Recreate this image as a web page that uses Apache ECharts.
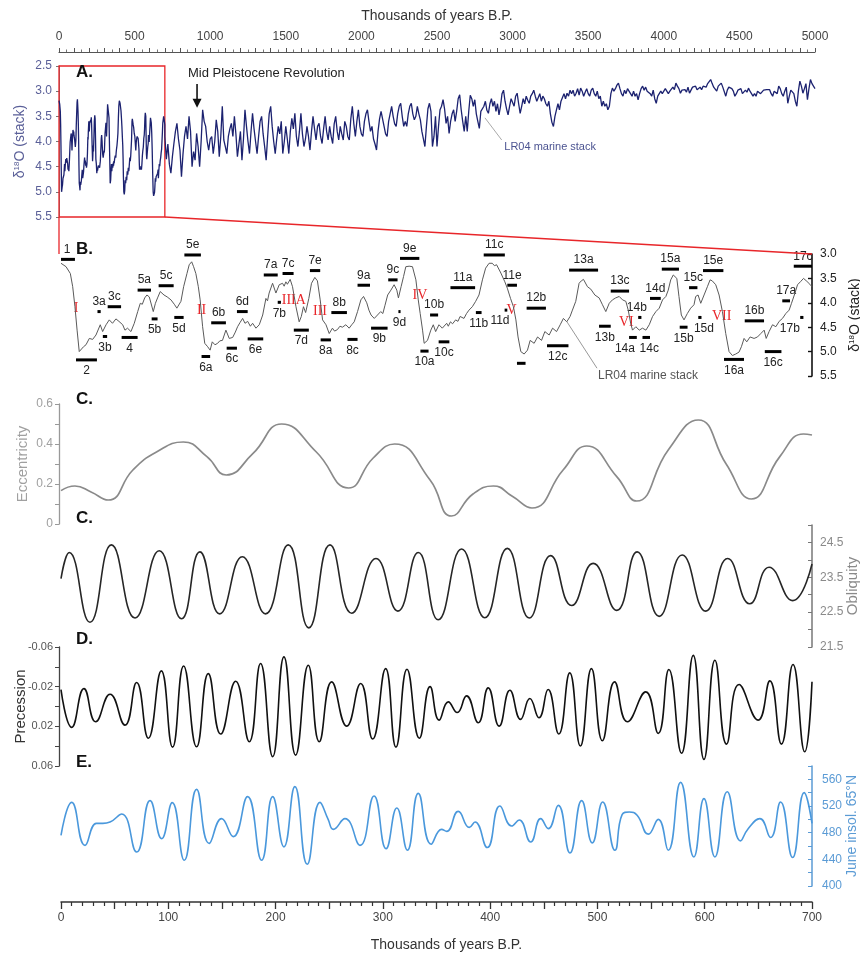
<!DOCTYPE html>
<html><head><meta charset="utf-8">
<script src="https://cdn.jsdelivr.net/npm/echarts@6/dist/echarts.min.js"></script>
<style>html,body{margin:0;padding:0;background:#fff}#c{width:860px;height:957px}</style>
</head><body><div id="c"></div>
<script>
// ---------------- DATA ----------------
// LR04 stack, 0-700 kyr (panel B, also first part of panel A): [kyr, d18O]
const lr04Recent = [[0,3.19],[4.7,3.26],[8.7,3.4],[10.9,3.67],[13,4.08],[15,4.56],[17,5.0],[18.6,4.97],[21,4.9],[23.3,4.86],[26.4,4.73],[29.5,4.75],[32.6,4.66],[36.6,4.45],[38.8,4.59],[42,4.45],[45,4.35],[48,4.42],[51.2,4.33],[54,4.38],[57.5,4.45],[59.6,4.56],[62,4.52],[65.2,4.59],[68.3,4.42],[71.5,4.18],[73.9,4.01],[75.8,4.03],[78,3.9],[80.1,3.84],[82.3,3.88],[86,4.18],[88,4.01],[90,3.9],[92.5,3.77],[94,3.8],[96,3.84],[97.5,3.8],[99,3.88],[102.5,3.94],[105.6,4.03],[108,4.11],[111.8,3.97],[114.3,3.67],[117.4,3.4],[119.5,3.22],[121.8,3.16],[123.6,3.26],[125.7,3.4],[128,3.67],[129.7,3.94],[132,4.49],[134,4.83],[136.7,4.9],[139,4.97],[141,4.8],[143.5,4.86],[146,4.83],[148,4.78],[150.5,4.77],[153.7,4.56],[156.8,4.73],[160,4.71],[162.5,4.6],[164.6,4.49],[167,4.4],[169.3,4.32],[171.5,4.42],[174,4.38],[176.5,4.48],[178.6,4.42],[181.7,4.52],[184.8,4.45],[188,4.25],[191,3.91],[192.5,3.96],[194,3.8],[197.2,3.6],[200.3,3.8],[203.4,3.63],[206.5,3.6],[208,3.66],[209.6,3.57],[211,3.62],[213.6,3.52],[215.8,3.67],[219,4.08],[222,4.39],[224,4.28],[226,4.08],[228,4.2],[231,3.91],[233.5,3.6],[236.6,3.48],[239,3.55],[241.6,3.94],[243.8,4.35],[247,4.45],[250,4.63],[253,4.52],[255,4.58],[257.6,4.55],[260,4.48],[262.3,4.5],[265.5,4.45],[268.6,4.52],[271,4.45],[273.3,4.39],[276.4,4.18],[279.5,3.94],[282,3.87],[285,4.0],[287,4.15],[289,4.25],[292,4.32],[295,4.25],[298,4.18],[300,4.22],[302,4.05],[304.5,3.84],[307.5,3.74],[310.5,3.63],[313,3.74],[314.5,3.9],[317,3.67],[319.3,3.46],[321.4,3.26],[324.5,3.25],[327.6,3.26],[330.8,3.53],[333,3.94],[334.8,4.22],[337,4.56],[338.5,4.83],[341.6,4.77],[344.7,4.56],[347,4.45],[349.2,4.59],[352.3,4.45],[355.4,4.52],[359.5,4.42],[361,4.48],[363,4.39],[365,4.43],[367.8,4.35],[370,4.38],[372,4.28],[375.6,4.32],[378,4.22],[380.3,4.15],[383.4,4.08],[386.5,3.97],[389.6,3.84],[392.8,3.53],[395.8,3.29],[399,3.19],[402,3.19],[404,3.24],[406,3.22],[410,3.39],[413.7,3.57],[416,3.7],[419,3.91],[421.7,4.08],[424,4.35],[426,4.7],[428.6,5.0],[431.7,5.05],[434.8,4.97],[437.3,4.77],[441,4.83],[444.2,4.7],[447.9,4.77],[451,4.59],[455,4.66],[458.2,4.52],[461.9,4.59],[465.3,4.45],[468.3,4.32],[471.4,4.39],[474.5,4.28],[476.7,4.15],[479.8,3.97],[482.9,3.6],[485,3.55],[487,3.52],[490.7,3.67],[493.8,3.72],[497.6,3.84],[501.6,3.9],[504.7,4.04],[507.8,4.18],[511,4.01],[514,3.94],[517,3.9],[520.3,3.87],[523.4,3.94],[526.5,3.97],[528.7,4.15],[531,4.42],[532.7,4.56],[535.8,4.49],[539,4.56],[542,4.52],[545.2,4.56],[548.3,4.45],[551.4,4.28],[554.5,4.18],[557.6,4.11],[560.7,3.94],[563.8,3.87],[566,3.74],[568.3,3.53],[570.7,3.43],[574,3.5],[576,3.87],[578.2,4.25],[580.7,4.35],[583.8,4.22],[586.9,4.11],[590,4.04],[591.6,3.87],[593.8,3.84],[596.3,4.01],[599.4,3.84],[602.5,3.67],[605,3.53],[607,3.55],[610.3,3.63],[613.4,3.84],[616.5,4.18],[619.6,4.63],[622.7,5.0],[625.8,5.08],[628.9,5.05],[632,5.01],[634.2,4.9],[636.7,4.73],[639.2,4.8],[642.3,4.7],[646,4.73],[649.2,4.7],[652.3,4.63],[655.4,4.56],[657.3,4.73],[660,4.59],[663.2,4.45],[666.3,4.49],[669.4,4.38],[672.5,4.32],[675.6,4.22],[678.7,4.15],[680.9,4.01],[684,3.81],[686.5,3.63],[689.6,3.56],[692.1,3.5],[695.2,3.56],[698,3.62],[700,3.67]];

// LR04 stack, 700-5000 kyr, one value every 10 kyr (panel A)
const lr04OldStartKyr = 700;
const lr04OldStepKyr = 10;
const lr04Old = [
3.90,4.35,4.05,4.45,4.63,4.30,4.04,3.80,3.64,3.95,
4.17,4.70,4.25,3.90,3.70,3.95,3.50,3.80,4.50,4.20,
4.37,3.84,4.10,4.50,4.00,3.37,3.60,3.70,4.00,4.17,
3.95,3.90,4.24,4.00,3.57,3.80,4.30,3.90,3.30,3.97,
4.10,4.24,3.90,3.75,3.64,3.90,3.50,3.85,4.30,4.05,
3.80,4.37,3.95,3.37,3.70,4.00,4.24,3.80,3.44,3.75,
4.00,4.24,3.90,3.60,3.50,3.85,4.10,4.37,3.90,3.45,
3.30,3.70,4.00,4.24,3.95,3.70,3.85,3.60,4.24,4.00,
3.70,3.95,4.24,3.80,3.54,3.75,3.44,3.90,4.10,3.80,
3.44,3.85,4.10,3.95,3.70,3.90,4.17,3.80,3.50,3.75,
3.97,3.70,3.64,3.90,4.04,3.75,3.50,3.80,3.97,3.70,
3.90,4.04,3.65,3.50,3.80,3.97,3.70,3.85,3.97,3.60,
3.70,3.90,3.97,3.55,3.30,3.65,3.90,3.60,3.37,3.70,
3.85,3.90,3.60,3.45,3.37,3.60,3.80,3.70,3.95,4.05,
4.17,3.80,3.55,3.40,3.37,3.70,3.85,3.90,3.60,3.45,
3.30,3.50,3.65,3.70,3.45,3.30,3.24,3.50,3.70,3.60,
3.70,3.45,3.30,3.24,3.45,3.57,3.50,3.30,3.45,3.57,
3.80,3.95,4.10,3.70,3.35,3.24,3.40,4.10,3.90,3.50,
4.10,3.70,3.37,3.30,3.17,3.35,3.64,3.50,3.84,3.60,
3.45,3.37,3.60,3.40,3.15,3.07,3.37,3.60,3.80,3.50,
3.80,3.40,3.08,3.15,3.30,3.17,3.45,3.60,3.74,3.40,
3.40,3.30,3.20,3.38,3.44,3.25,3.15,3.30,3.20,3.40,
3.25,3.47,3.30,3.05,2.98,3.20,3.35,3.47,3.30,3.15,
3.17,3.30,3.10,3.04,3.25,3.44,3.30,3.15,3.25,3.10,
3.18,3.24,3.10,3.05,2.98,3.10,3.20,3.17,3.05,3.20,
3.10,3.15,3.25,3.30,3.20,3.45,3.62,3.70,3.50,3.37,
3.25,3.37,3.20,3.17,3.05,3.15,3.04,3.10,2.98,3.05,
2.98,3.10,3.04,2.95,3.08,2.94,3.00,3.10,3.02,2.95,
3.05,3.10,2.98,2.94,3.05,3.10,3.00,3.15,3.10,3.30,
3.20,3.30,3.25,3.37,3.30,3.05,2.94,3.00,2.95,2.88,
2.84,2.95,3.05,3.10,2.98,3.05,2.95,2.98,3.05,3.10,
3.00,3.10,3.05,3.17,3.05,2.95,2.90,2.98,2.92,3.00,
2.98,3.05,3.10,2.98,3.15,3.24,3.10,3.07,3.00,3.05,
3.07,2.95,3.00,3.05,3.00,2.97,2.92,2.97,2.84,2.90,
2.95,3.04,2.98,2.95,2.97,3.02,2.92,3.04,2.98,2.92,
2.94,2.90,2.97,3.00,2.92,2.97,2.90,2.87,2.92,2.85,
2.87,2.77,2.85,2.92,2.95,3.00,2.90,2.88,2.84,2.92,
2.95,3.10,2.98,2.92,2.90,2.95,3.00,3.10,3.05,2.98,
3.00,2.95,3.05,3.07,2.98,3.02,2.94,3.00,2.98,3.10,
3.05,3.10,3.00,2.97,3.05,3.07,2.98,3.00,2.97,2.95,
2.97,3.05,3.10,3.00,2.98,3.05,2.90,2.95,3.05,3.10,
3.00,2.92,3.24,3.10,2.98,2.97,3.05,3.20,3.30,3.00,
2.80,2.90,3.04,2.95,2.85,3.17,2.95,2.77,2.85,2.87,
2.95];

// Marine isotope (sub)stage bars in panel B: [label, start kyr, end kyr, d18O level]
const markerBars = [['1',0,13,3.11],['2',14,33.5,5.17],['3a',34,37,4.18],['3b',39,43,4.69],['3c',43.5,56,4.08],['4',56.5,71.4,4.71],['5a',71.4,83.9,3.74],['5b',84.5,90,4.33],['5c',91,105,3.65],['5d',105.6,114.3,4.3],['5e',115,130.4,3.02],['6a',131,139,5.1],['6b',140,153.7,4.41],['6c',154.4,164,4.93],['6d',164,174,4.18],['6e',174,188.5,4.74],['7a',189,202,3.43],['7b',202,205,3.99],['7c',206.5,216.8,3.4],['7d',217,231,4.56],['7e',232,241.6,3.34],['8a',242,251.6,4.76],['8b',252,266.5,4.2],['8c',267,276.4,4.75],['9a',276.4,288,3.64],['9b',289,304.4,4.52],['9c',305,313.7,3.53],['9d',314.5,316.5,4.18],['9e',316,334,3.09],['10a',335,342.6,4.99],['10b',344,351.5,4.25],['10c',352,362,4.8],['11a',363,386,3.69],['11b',386.7,392,4.2],['11c',394,413.7,3.02],['11d',413.5,416,4.15],['11e',416,425,3.64],['',425,433,5.24],['12b',434,452,4.11],['12c',453,473,4.88],['13a',473.6,500.6,3.33],['13b',501.5,512.4,4.48],['13c',512.4,529.5,3.76],['14a',529.5,536.7,4.71],['14b',538,541,4.3],['14c',542,549,4.71],['14d',549,559,3.91],['15a',560,576,3.31],['15b',576.7,584,4.5],['15c',585.4,593.2,3.69],['15d',594,597,4.3],['15e',598.4,617.4,3.34],['16a',618,636.6,5.16],['16b',637.3,655.3,4.37],['16c',656,671.5,5.0],['17a',672.3,679.5,3.96],['17b',689,692,4.3],['17c',683,700,3.25]];
// Glacial terminations (red numerals): [numeral, kyr, d18O]
const terminations = [['I',14,4.11],['II',131,4.15],['IIIA',217,3.94],['III',241.4,4.18],['IV',334.6,3.84],['V',420,4.15],['VI',527,4.39],['VII',615.8,4.28]];

// Orbital parameters, 0-700 kyr: [kyr, value]
const eccentricity = [[0,0.167],[13,0.19],[28,0.16],[44,0.12],[67,0.27],[89,0.36],[114,0.41],[136,0.337],[154,0.245],[179,0.353],[205.6,0.5],[238,0.36],[268,0.18],[291,0.33],[311,0.40],[344,0.22],[364,0.04],[384,0.15],[403,0.19],[421,0.137],[439,0.08],[468,0.27],[490,0.39],[518,0.237],[536.5,0.115],[566,0.37],[594,0.52],[620,0.30],[643.5,0.125],[670,0.337],[692,0.45],[700,0.445]];
const obliquity = [[0,23.46],[7.7,24.21],[27,22.21],[47,24.43],[69,22.33],[91.6,24.26],[112.4,22.31],[129.5,24.23],[148,22.45],[169,24.09],[190.6,22.45],[211.8,24.43],[231,22.05],[250.7,24.43],[271,22.47],[293.6,24.04],[314,22.53],[333,24.21],[351.6,22.28],[373.4,24.31],[395,22.34],[416,24.33],[436.5,22.33],[456.4,24.12],[476,22.69],[496,23.9],[518,22.55],[537,24.23],[557.5,22.38],[579,24.14],[601,22.53],[621.4,24.04],[642,22.74],[660,23.79],[682,22.83],[700,23.88]];
const precession = [[0,-0.017],[10,0.021],[21.4,-0.018],[32.3,0.0154],[45.7,-0.0124],[59.6,0.0188],[70.5,-0.0242],[81.4,0.032],[93.5,-0.0359],[104,0.041],[114.3,-0.0409],[126.4,0.0406],[137.3,-0.0332],[148.8,0.0278],[162.8,-0.0255],[175.5,0.0355],[186,-0.0433],[197.3,0.0506],[207.8,-0.05],[218.7,0.049],[230.5,-0.0416],[240.7,0.0355],[252.3,-0.0248],[266.3,0.0198],[279.3,-0.0232],[290.5,0.0328],[302.6,-0.0382],[312.2,0.041],[322.5,-0.0376],[334,0.032],[344,-0.02],[352.5,0.0137],[361,-0.0047],[369.3,0.006],[378,-0.0107],[388.9,0.0164],[398.2,-0.0188],[408.4,0.0198],[418.4,-0.0164],[428.4,0.013],[437,-0.008],[445.5,0.0114],[454,-0.0171],[464,0.0278],[474.2,-0.0339],[484.1,0.0399],[494.4,-0.0382],[504.6,0.0345],[516,-0.0248],[527.9,0.0154],[545,-0.0147],[556.7,0.0271],[566.6,-0.0373],[578.4,0.0472],[589.3,-0.0516],[599.3,0.0533],[609.5,-0.0466],[620.3,0.0379],[632,-0.0222],[649.8,0.0137],[660.7,-0.0258],[671.5,0.0379],[682.3,-0.0423],[693.2,0.0457],[700,-0.025]];
const insolation = [[0,476],[10,525.4],[22.4,461],[33,494],[39,494],[45.7,496],[56.6,508],[70.5,451],[83,528],[93.8,471],[103.7,525],[114.9,438.6],[126.4,545],[138.1,464],[149.7,501],[160.5,474],[173.9,534],[187,438.6],[197.3,534],[207.8,458.7],[218,549],[229.5,432.6],[241.4,525.4],[249,500],[253.8,485],[264.7,501],[278.7,461],[291.8,535],[303,456],[313,517],[322.9,453.7],[333,539],[345,462.7],[354.8,485],[359.5,482],[370.3,512],[380.6,488],[385.9,496],[397.3,457.7],[409.1,520],[420,490],[427.1,499],[437.8,466],[447.1,501],[454.2,486],[463.5,521],[474.4,449.6],[485.3,528],[495.2,464.7],[504.9,526],[516.3,453.7],[523,507],[529.7,511],[537,506],[547.4,477.8],[556.7,500],[566,453.7],[577.5,555.5],[589.9,443.6],[599.3,531],[609.5,443.6],[621,541.4],[633.4,467.7],[640.5,486],[651.4,501],[661.4,472.8],[670.7,526],[681.9,442.7],[692.7,540],[700,494]];

// ---------------- CHART ----------------
const labelsBelow = ['2','3b','4','5b','5d','6a','6c','6e','7b','7d','8a','8c','9b','9d','10a','10c','11b','11d','12c','13b','14a','14c','15b','15d','16a','16c','17b'];
const labelShift = {'1':-1,'14a':-8,'14c':3,'11d':-6,'17b':-12,'14b':-3,'15d':4};
const FONT = 'Liberation Sans, Arial, sans-serif';
const W = 751;
const chart = echarts.init(document.getElementById('c'), null, {renderer:'canvas'});

const lr04All = lr04Recent.concat(lr04Old.map((v,i)=>[lr04OldStartKyr + i*lr04OldStepKyr, v]));

function d18Name(color, size){
  return { name:'{n|δ}{s|18}{n|O (stack)}', nameTextStyle:{ rich:{ n:{fontSize:size,color:color,fontFamily:FONT}, s:{fontSize:8,color:color,fontFamily:FONT,padding:[0,0,7,0]} } } };
}
function hiddenX(g){ return {gridIndex:g,type:'value',min:0,max:700,show:false,axisLine:{onZero:false}}; }
function gridBox(l,t,w,h){ return {left:l,top:t,width:w,height:h,containLabel:false,outerBoundsMode:'none'}; }

const option = {
  animation:false,
  backgroundColor:'#fff',
  textStyle:{fontFamily:FONT},
  grid:[
    gridBox(59,66,756,151),
    gridBox(61,254,W,122),
    gridBox(61,404,W,120),
    gridBox(61,525,W,122),
    gridBox(61,647,W,119),
    gridBox(61,766,W,120)
  ],
  xAxis:[
    {gridIndex:0,type:'value',position:'top',offset:14,min:0,max:5000,interval:100,
     axisLine:{onZero:false,lineStyle:{color:'#555',width:1.2}},
     axisTick:{length:4,lineStyle:{color:'#555'}},
     minorTick:{show:true,splitNumber:2,length:2.5,lineStyle:{color:'#777'}},
     splitLine:{show:false},
     axisLabel:{margin:9,fontSize:12,color:'#444',formatter:v=>v%500===0?String(v):''},
     name:'Thousands of years B.P.',nameLocation:'middle',nameGap:29,nameMoveOverlap:false,
     nameTextStyle:{fontSize:14,color:'#333'}},
    hiddenX(1),hiddenX(2),hiddenX(3),hiddenX(4),
    {gridIndex:5,type:'value',position:'bottom',offset:16,min:0,max:700,interval:50,
     axisLine:{onZero:false,lineStyle:{color:'#333',width:1.5}},
     axisTick:{length:7,lineStyle:{color:'#333',width:1.3}},
     minorTick:{show:true,splitNumber:5,length:4,lineStyle:{color:'#333',width:1.2}},
     splitLine:{show:false},
     axisLabel:{margin:10,fontSize:12,color:'#444',formatter:v=>v%100===0?String(v):''},
     name:'Thousands of years B.P.',nameLocation:'middle',nameGap:36,nameMoveOverlap:false,
     nameTextStyle:{fontSize:14,color:'#333',padding:[0,0,0,20]}}
  ],
  yAxis:[
    Object.assign({gridIndex:0,type:'value',inverse:true,min:2.5,max:5.5,interval:0.5,
     axisLine:{show:true,onZero:false,lineStyle:{color:'#777'}},axisTick:{show:true,length:3,lineStyle:{color:'#777'}},
     splitLine:{show:false},
     axisLabel:{margin:7,fontSize:12,color:'#5a5f98',formatter:v=>v.toFixed(1)},
     nameLocation:'middle',nameGap:31,nameRotate:90,nameMoveOverlap:false}, d18Name('#5a5f98',14)),
    Object.assign({gridIndex:1,type:'value',position:'right',inverse:true,min:3.0,max:5.5,interval:0.5,
     axisLine:{show:true,onZero:false,lineStyle:{color:'#111',width:1.6}},axisTick:{show:true,inside:true,length:4,lineStyle:{color:'#111',width:1.4}},
     splitLine:{show:false},
     axisLabel:{margin:8,fontSize:12,color:'#222',formatter:v=>v.toFixed(1)},
     nameLocation:'middle',nameGap:36,nameRotate:90,nameMoveOverlap:false}, d18Name('#222',14)),
    {gridIndex:2,type:'value',offset:2,min:0,max:0.6,interval:0.1,
     axisLine:{show:true,onZero:false,lineStyle:{color:'#999',width:1.3}},axisTick:{show:true,length:4,lineStyle:{color:'#999'}},
     splitLine:{show:false},
     axisLabel:{margin:6,fontSize:12,color:'#a0a0a0',formatter:v=>{const k=Math.round(v*10);return k%2===0?(k===0?'0':(k/10).toFixed(1)):'';}},
     name:'Eccentricity',nameLocation:'middle',nameGap:29,nameRotate:90,nameMoveOverlap:false,nameTextStyle:{fontSize:15,color:'#a0a0a0'}},
    {gridIndex:3,type:'value',position:'right',min:21.5,max:25,interval:0.5,
     axisLine:{show:true,onZero:false,lineStyle:{color:'#777',width:1.5}},axisTick:{show:true,inside:true,length:4,lineStyle:{color:'#777'}},
     splitLine:{show:false},
     axisLabel:{margin:8,fontSize:12,color:'#8a8a8a',formatter:v=>Math.round(v*2)%2===1?v.toFixed(1):''},
     name:'Obliquity',nameLocation:'middle',nameGap:33,nameRotate:90,nameMoveOverlap:false,nameTextStyle:{fontSize:15,color:'#8a8a8a'}},
    {gridIndex:4,type:'value',offset:2,inverse:true,min:-0.06,max:0.06,interval:0.02,
     axisLine:{show:true,onZero:false,lineStyle:{color:'#444',width:1.3}},axisTick:{show:true,length:4,lineStyle:{color:'#444'}},
     splitLine:{show:false},
     axisLabel:{margin:6,fontSize:11,color:'#555',formatter:v=>{const a=Math.abs(v);return (Math.abs(a-0.06)<1e-9||Math.abs(a-0.02)<1e-9)?v.toFixed(2):'';}},
     name:'Precession',nameLocation:'middle',nameGap:31,nameRotate:90,nameMoveOverlap:false,nameTextStyle:{fontSize:15,color:'#333'}},
    {gridIndex:5,type:'value',position:'right',min:400,max:580,interval:20,
     axisLine:{show:true,onZero:false,lineStyle:{color:'#5b9bd5',width:1.5}},axisTick:{show:true,inside:true,length:4,lineStyle:{color:'#5b9bd5'}},
     splitLine:{show:false},
     axisLabel:{margin:10,fontSize:12,color:'#5b9bd5',formatter:v=>(v%40===0&&v<=560)?String(v):''},
     name:'June insol. 65°N',nameLocation:'middle',nameGap:33,nameRotate:90,nameMoveOverlap:false,nameTextStyle:{fontSize:14,color:'#5b9bd5'}}
  ],
  series:[
    {type:'line',xAxisIndex:0,yAxisIndex:0,data:lr04All,showSymbol:false,
     lineStyle:{color:'#1c2270',width:1.3},
     markArea:{silent:true,itemStyle:{color:'rgba(0,0,0,0)',borderColor:'#e8262a',borderWidth:1.3},
       data:[[{coord:[0,2.5]},{coord:[700,5.5]}]]}},
    {type:'line',xAxisIndex:1,yAxisIndex:1,data:lr04Recent,showSymbol:false,
     lineStyle:{color:'#5a5a5a',width:1}},
    {type:'custom',xAxisIndex:1,yAxisIndex:1,clip:false,
     data:markerBars.map(b=>[b[1],b[2],b[3]]),
     encode:{x:[0,1],y:2},
     renderItem:function(params,api){
       const p1=api.coord([api.value(0),api.value(2)]), p2=api.coord([api.value(1),api.value(2)]);
       const name=markerBars[params.dataIndex][0];
       const below=labelsBelow.indexOf(name)>=0;
       const dx=labelShift[name]||0;
       return {type:'group',children:[
         {type:'line',shape:{x1:p1[0],y1:p1[1],x2:p2[0],y2:p2[1]},style:{stroke:'#000',lineWidth:3}},
         {type:'text',style:{text:name,x:(p1[0]+p2[0])/2+dx,y:p1[1]+(below?11:-10),align:'center',verticalAlign:'middle',fill:'#222',font:'12px '+FONT}}
       ]};
     }},
    {type:'custom',xAxisIndex:1,yAxisIndex:1,
     data:terminations.map(t=>[t[1],t[2]]),
     encode:{x:0,y:1},
     renderItem:function(params,api){
       const p=api.coord([api.value(0),api.value(1)]);
       return {type:'text',style:{text:terminations[params.dataIndex][0],x:p[0],y:p[1],align:'center',verticalAlign:'middle',fill:'#e8262a',font:'14px Liberation Serif, DejaVu Serif, serif'}};
     }},
    {type:'line',xAxisIndex:2,yAxisIndex:2,data:eccentricity,smooth:0.5,showSymbol:false,
     lineStyle:{color:'#8a8a8a',width:1.7}},
    {type:'line',xAxisIndex:3,yAxisIndex:3,data:obliquity,smooth:0.5,showSymbol:false,
     lineStyle:{color:'#262626',width:1.6}},
    {type:'line',xAxisIndex:4,yAxisIndex:4,data:precession,smooth:0.5,showSymbol:false,
     lineStyle:{color:'#111',width:1.6}},
    {type:'line',xAxisIndex:5,yAxisIndex:5,data:insolation,smooth:0.5,showSymbol:false,
     lineStyle:{color:'#4a98dc',width:1.6}}
  ]
};
chart.setOption(option);

// annotations positioned through the axes' scales
const P=(g,pt)=>chart.convertToPixel({gridIndex:g},pt);
const a0=P(0,[0,5.5]), b0=P(1,[0,3.0]), a1=P(0,[700,5.5]), b1=P(1,[700,3.0]);
const mTop=P(0,[913,2.86]), mBot=P(0,[913,3.33]), mTxt=P(0,[853,2.64]);
const la1=P(0,[2817,3.53]), la2=P(0,[2928,3.97]), laT=P(0,[2945,4.1]);
const lb1=P(1,[471.6,4.39]), lb2=P(1,[499.6,5.34]), lbT=P(1,[500.5,5.5]);
function panelLabel(t,x,y){return {type:'text',left:x,top:y-9,style:{text:t,font:'bold 17px '+FONT,fill:'#111'},z:50};}
chart.setOption({graphic:[
  {type:'line',shape:{x1:a0[0],y1:a0[1],x2:a0[0],y2:b0[1]},style:{stroke:'#e8262a',lineWidth:1.3},z:40},
  {type:'line',shape:{x1:a1[0],y1:a1[1],x2:b1[0],y2:b1[1]},style:{stroke:'#e8262a',lineWidth:1.3},z:40},
  {type:'line',shape:{x1:mTop[0],y1:mTop[1],x2:mBot[0],y2:mBot[1]-6},style:{stroke:'#111',lineWidth:1.6},z:40},
  {type:'polygon',shape:{points:[[mBot[0]-4.5,mBot[1]-9],[mBot[0]+4.5,mBot[1]-9],[mBot[0],mBot[1]]]},style:{fill:'#111'},z:40},
  {type:'text',x:mTxt[0],y:mTxt[1],style:{text:'Mid Pleistocene Revolution',font:'13px '+FONT,fill:'#222',align:'left',verticalAlign:'middle'},z:40},
  {type:'line',shape:{x1:la1[0],y1:la1[1],x2:la2[0],y2:la2[1]},style:{stroke:'#aaa',lineWidth:1},z:40},
  {type:'text',x:laT[0],y:laT[1],style:{text:'LR04 marine stack',font:'11px '+FONT,fill:'#4b5391',align:'left',verticalAlign:'middle'},z:40},
  {type:'line',shape:{x1:lb1[0],y1:lb1[1],x2:lb2[0],y2:lb2[1]},style:{stroke:'#999',lineWidth:1},z:40},
  {type:'text',x:lbT[0],y:lbT[1],style:{text:'LR04 marine stack',font:'12px '+FONT,fill:'#555',align:'left',verticalAlign:'middle'},z:40},
  panelLabel('A.',76,73), panelLabel('B.',76,250), panelLabel('C.',76,400),
  panelLabel('C.',76,519), panelLabel('D.',76,640), panelLabel('E.',76,763)
]});
</script></body></html>
